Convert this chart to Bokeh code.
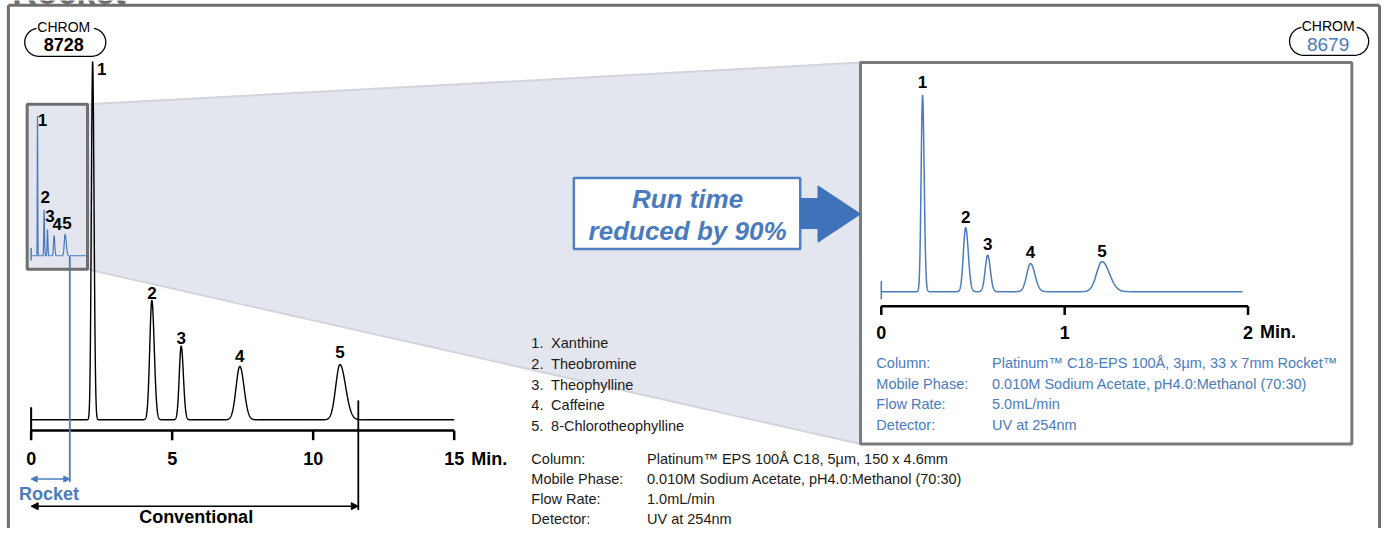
import numpy as np
from bokeh.plotting import figure
from bokeh.models import Range1d, ColumnDataSource, Arrow, NormalHead
from bokeh.core.properties import value
from bokeh.embed import file_html
from bokeh.resources import INLINE

# ---------------- data ----------------
peak_ids = ["1", "2", "3", "4", "5"]
compounds = ["Xanthine", "Theobromine", "Theophylline", "Caffeine", "8-Chlorotheophylline"]

# conventional column (minutes, relative response)
conv_rt = [2.18, 4.28, 5.32, 7.40, 10.95]
conv_height = [100.0, 33.3, 20.6, 14.9, 15.4]
conv_sigma_left = [0.045, 0.075, 0.068, 0.135, 0.15]
conv_sigma_right = [0.05, 0.085, 0.078, 0.15, 0.20]
conv_trace_end = 15.0
conv_run_time = 11.6

# Rocket column
rocket_rt = [0.225, 0.46, 0.58, 0.814, 1.204]
rocket_height = [100.0, 32.6, 18.6, 14.3, 15.3]
rocket_sigma_left = [0.0078, 0.0125, 0.0135, 0.021, 0.030]
rocket_sigma_right = [0.0088, 0.0145, 0.0145, 0.024, 0.040]
rocket_trace_end = 1.97
rocket_run_time = 1.37

conv_ticks = [0, 5, 10, 15]
conv_tick_labels = ["0", "5", "10", "15"]
rocket_ticks = [0, 1, 2]
rocket_tick_labels = ["0", "1", "2"]
time_unit = "Min."

cond_labels = ["Column:", "Mobile Phase:", "Flow Rate:", "Detector:"]
conv_conditions = ["Platinum\u2122 EPS 100\u00c5 C18, 5\u00b5m, 150 x 4.6mm",
                   "0.010M Sodium Acetate, pH4.0:Methanol (70:30)",
                   "1.0mL/min", "UV at 254nm"]
rocket_conditions = ["Platinum\u2122 C18-EPS 100\u00c5, 3\u00b5m, 33 x 7mm Rocket\u2122",
                     "0.010M Sodium Acetate, pH4.0:Methanol (70:30)",
                     "5.0mL/min", "UV at 254nm"]
conv_chrom_no = "8728"
rocket_chrom_no = "8679"

# ---------------- layout / style ----------------
W_REF, H_REF = 1397, 544
BLUE = "#4a7bbf"
ARROW_BLUE = "#3f72b9"
GRAY = "#6f6f6f"
FILL = "#e3e6ef"
FONT = value("Liberation Sans")
BODY = value("14.5px")

# conventional panel mapping
CX0, CPXM = 31.0, 28.53          # x pixel of t=0, px per minute
CBASE, CPXU = 432.0, 3.69        # baseline pixel, px per response unit
# inset (rocket trace on conventional time axis)
IBASE, IPXU = 263.0, 1.44
# rocket panel
RX0, RPXM = 891.0, 185.5
RBASE, RPXU = 300.0, 2.023

p = figure(width=1381, height=528, output_backend="svg", toolbar_location=None,
           x_range=Range1d(0, W_REF), y_range=Range1d(H_REF, 0),
           x_axis_location=None, y_axis_location=None, min_border=0)
p.grid.visible = False
p.outline_line_color = None
p.background_fill_color = "white"
p.border_fill_color = "white"

p.extra_x_ranges = {
    "tconv": Range1d((0 - CX0) / CPXM, (W_REF - CX0) / CPXM),
    "trock": Range1d((0 - RX0) / RPXM, (W_REF - RX0) / RPXM),
}
p.extra_y_ranges = {
    "yconv": Range1d((CBASE - H_REF) / CPXU, CBASE / CPXU),
    "yinset": Range1d((IBASE - H_REF) / IPXU, IBASE / IPXU),
    "yrock": Range1d((RBASE - H_REF) / RPXU, RBASE / RPXU),
}


def trace(rt, h, sl, sr, t):
    y = np.zeros_like(t)
    for r, hh, a, b in zip(rt, h, sl, sr):
        s = np.where(t < r, a, b)
        y += hh * np.exp(-0.5 * ((t - r) / s) ** 2)
    return y


t_conv = np.linspace(0, conv_trace_end, 8000)
y_conv = trace(conv_rt, conv_height, conv_sigma_left, conv_sigma_right, t_conv)
t_rock = np.linspace(0, rocket_trace_end, 8000)
y_rock = trace(rocket_rt, rocket_height, rocket_sigma_left, rocket_sigma_right, t_rock)

# ---------------- title remnant & outer frame ----------------
p.text(x=[12], y=[-9], text=["Rocket"], text_font=FONT, text_font_style="bold",
       text_font_size=value("34px"), text_color=GRAY, text_baseline="middle")
p.multi_line(xs=[[8, 8], [8, 1395], [1395, 1395]], ys=[[5, 560], [5, 5], [5, 560]],
             line_color=GRAY, line_width=3)

# ---------------- zoom trapezoid ----------------
p.patch(x=[88, 870, 870, 88], y=[107, 64, 457, 277], fill_color=FILL,
        line_color="#d2d4db", line_width=2)
# inset box
p.quad(left=27, right=88, top=107, bottom=277, fill_color=FILL,
       line_color=GRAY, line_width=3)
# right panel box
p.quad(left=870, right=1367, top=64, bottom=457, fill_color="white",
       line_color="#7a7a7a", line_width=3)

# run time callout
p.quad(left=580, right=809, top=183, bottom=256, fill_color="white",
       line_color="#4f80c2", line_width=2.5)
p.patch(x=[809, 827, 827, 870, 827, 827, 809], y=[204, 204, 191, 220, 249, 235, 235],
        fill_color=ARROW_BLUE, line_color=ARROW_BLUE)
p.text(x=[695, 695], y=[205, 237], text=["Run time", "reduced by 90%"], text_font=FONT,
       text_font_style="bold italic", text_font_size=value("26px"), text_color=BLUE,
       text_align="center", text_baseline="middle")

# ---------------- CHROM badges ----------------
def badge(cxl, cxr, cy, r):
    a1 = np.radians(np.linspace(100, 270, 40))
    a2 = np.radians(np.linspace(-90, 80, 40))
    xs = np.concatenate([cxl + r * np.cos(a1), cxr + r * np.cos(a2)])
    ys = np.concatenate([cy - r * np.sin(a1), cy - r * np.sin(a2)])
    return xs, ys

bx, by = badge(39, 92, 43, 14.5)
p.line(bx, by, line_color="black", line_width=1.3)
bx, by = badge(1318.5, 1369.5, 42, 14.5)
p.line(bx, by, line_color="black", line_width=1.3)
p.text(x=[64, 1343], y=[27, 26], text=["CHROM", "CHROM"], text_font=FONT,
       text_font_size=value("14px"), text_color="black", text_align="center",
       text_baseline="middle")
p.text(x=[64], y=[45], text=[conv_chrom_no], text_font=FONT, text_font_style="bold",
       text_font_size=value("18px"), text_color="black", text_align="center",
       text_baseline="middle")
p.text(x=[1343], y=[45], text=[rocket_chrom_no], text_font=FONT,
       text_font_size=value("19px"), text_color=BLUE, text_align="center",
       text_baseline="middle")

# ---------------- conventional chromatogram ----------------
p.line(t_conv, y_conv, x_range_name="tconv", y_range_name="yconv",
       line_color="black", line_width=1.4)
p.segment(x0=[0], x1=[0], y0=[419], y1=[446], x_range_name="tconv",
          line_color="black", line_width=2)
p.segment(x0=[0], x1=[conv_ticks[-1]], y0=[443], y1=[443], x_range_name="tconv",
          line_color="black", line_width=2.5)
p.segment(x0=conv_ticks, x1=conv_ticks, y0=[443] * len(conv_ticks),
          y1=[453] * len(conv_ticks), x_range_name="tconv", line_color="black", line_width=2.5)
p.text(x=conv_ticks, y=[472] * len(conv_ticks), text=conv_tick_labels, x_range_name="tconv",
       text_font=FONT, text_font_style="bold", text_font_size=value("18px"),
       text_color="black", text_align="center", text_baseline="middle")
p.text(x=[conv_ticks[-1]], y=[472], text=[time_unit], x_range_name="tconv", x_offset=17,
       text_font=FONT, text_font_style="bold", text_font_size=value("18px"),
       text_color="black", text_align="left", text_baseline="middle")
conv_lab = ColumnDataSource(dict(x=conv_rt, y=conv_height, t=peak_ids,
                                 dx=[9, 0, 0, 0, 0], dy=[7, -8, -8, -10, -13]))
p.text(x="x", y="y", text="t", source=conv_lab, x_offset="dx", y_offset="dy",
       x_range_name="tconv", y_range_name="yconv", text_font=FONT, text_font_style="bold",
       text_font_size=value("17px"), text_color="black", text_align="center",
       text_baseline="middle")

# run-time markers
p.segment(x0=[conv_run_time], x1=[conv_run_time], y0=[412], y1=[525], x_range_name="tconv",
          line_color="black", line_width=1.8)
p.add_layout(Arrow(x_start=0, x_end=conv_run_time, y_start=521, y_end=521,
                   x_range_name="tconv", line_color="black", line_width=1.5,
                   start=NormalHead(size=7, fill_color="black", line_color="black"),
                   end=NormalHead(size=7, fill_color="black", line_color="black")))
p.text(x=[conv_run_time / 2 + 0.05], y=[532], text=["Conventional"], x_range_name="tconv",
       text_font=FONT, text_font_style="bold", text_font_size=value("18px"),
       text_color="black", text_align="center", text_baseline="middle")

p.segment(x0=[rocket_run_time], x1=[rocket_run_time], y0=[263], y1=[496],
          x_range_name="tconv", line_color=BLUE, line_width=1.8)
p.add_layout(Arrow(x_start=0, x_end=rocket_run_time, y_start=493, y_end=493,
                   x_range_name="tconv", line_color=BLUE, line_width=1.5,
                   start=NormalHead(size=6, fill_color=BLUE, line_color=BLUE),
                   end=NormalHead(size=6, fill_color=BLUE, line_color=BLUE)))
p.text(x=[rocket_run_time / 2 - 0.05], y=[508], text=["Rocket"], x_range_name="tconv",
       text_font=FONT, text_font_style="bold", text_font_size=value("18px"),
       text_color=BLUE, text_align="center", text_baseline="middle")

# ---------------- inset (rocket trace at conventional scale) ----------------
p.line(t_rock, y_rock, x_range_name="tconv", y_range_name="yinset",
       line_color=BLUE, line_width=1.2)
p.segment(x0=[0], x1=[0], y0=[255], y1=[268], x_range_name="tconv",
          line_color=BLUE, line_width=1.5)
ins_lab = ColumnDataSource(dict(x=rocket_rt, y=rocket_height, t=peak_ids,
                                dx=[5, 1, 2.5, 3, 2], dy=[4, -13, -14, -12, -11]))
p.text(x="x", y="y", text="t", source=ins_lab, x_offset="dx", y_offset="dy",
       x_range_name="tconv", y_range_name="yinset", text_font=FONT, text_font_style="bold",
       text_font_size=value("17px"), text_color="black", text_align="center",
       text_baseline="middle")

# ---------------- rocket chromatogram (right panel) ----------------
p.line(t_rock, y_rock, x_range_name="trock", y_range_name="yrock",
       line_color=BLUE, line_width=1.5)
p.segment(x0=[0], x1=[0], y0=[289], y1=[308], x_range_name="trock",
          line_color=BLUE, line_width=1.5)
p.segment(x0=[0], x1=[rocket_ticks[-1]], y0=[315], y1=[315], x_range_name="trock",
          line_color="black", line_width=2.5)
p.segment(x0=rocket_ticks, x1=rocket_ticks, y0=[315] * len(rocket_ticks),
          y1=[324] * len(rocket_ticks), x_range_name="trock", line_color="black", line_width=2.5)
p.text(x=rocket_ticks, y=[342] * len(rocket_ticks), text=rocket_tick_labels,
       x_range_name="trock", text_font=FONT, text_font_style="bold",
       text_font_size=value("18px"), text_color="black", text_align="center",
       text_baseline="middle")
p.text(x=[rocket_ticks[-1]], y=[342], text=[time_unit], x_range_name="trock", x_offset=12,
       text_font=FONT, text_font_style="bold", text_font_size=value("18px"),
       text_color="black", text_align="left", text_baseline="middle")
rock_lab = ColumnDataSource(dict(x=rocket_rt, y=rocket_height, t=peak_ids,
                                 dx=[0, 0, 0, 0, 0], dy=[-13, -11, -11, -12, -11]))
p.text(x="x", y="y", text="t", source=rock_lab, x_offset="dx", y_offset="dy",
       x_range_name="trock", y_range_name="yrock", text_font=FONT, text_font_style="bold",
       text_font_size=value("17px"), text_color="black", text_align="center",
       text_baseline="middle")

# ---------------- text blocks ----------------
list_y = [353, 374, 396, 417, 438]
p.text(x=[537] * 5, y=list_y, text=[f"{i}." for i in peak_ids], text_font=FONT,
       text_font_size=BODY, text_color="#1a1a1a", text_baseline="middle")
p.text(x=[557] * 5, y=list_y, text=compounds, text_font=FONT,
       text_font_size=BODY, text_color="#1a1a1a", text_baseline="middle")

cond_y = [472, 493, 514, 534]
p.text(x=[537] * 4, y=cond_y, text=cond_labels, text_font=FONT,
       text_font_size=BODY, text_color="#1a1a1a", text_baseline="middle")
p.text(x=[654] * 4, y=cond_y, text=conv_conditions, text_font=FONT,
       text_font_size=BODY, text_color="#1a1a1a", text_baseline="middle")

rcond_y = [373, 395, 416, 437]
p.text(x=[886] * 4, y=rcond_y, text=cond_labels, text_font=FONT,
       text_font_size=BODY, text_color=BLUE, text_baseline="middle")
p.text(x=[1003] * 4, y=rcond_y, text=rocket_conditions, text_font=FONT,
       text_font_size=BODY, text_color=BLUE, text_baseline="middle")

open("out.html", "w").write(file_html(p, INLINE))
